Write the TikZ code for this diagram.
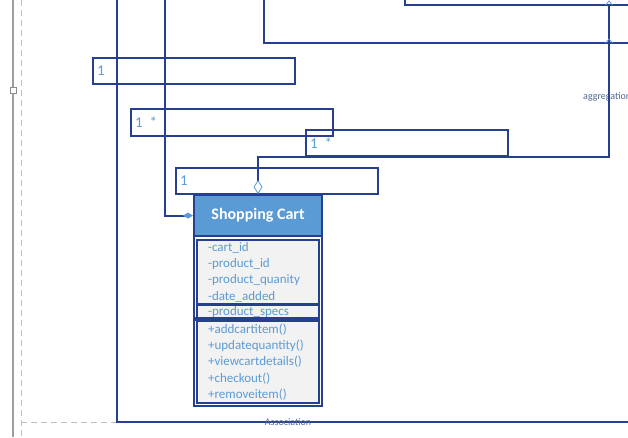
\documentclass[tikz,border=0pt]{standalone}
\usepackage{fontspec}
\setmainfont{Carlito}
\usetikzlibrary{positioning,arrows.meta}

\definecolor{umlblue}{HTML}{263F8F}
\definecolor{headblue}{HTML}{5B9BD5}
\definecolor{textblue}{HTML}{5B9BD5}
\definecolor{boxgray}{HTML}{F2F2F2}
\definecolor{notegray}{HTML}{4F6A8C}

\begin{document}
\begin{tikzpicture}[
    x=1pt, y=-1pt,
    edge/.style     = {draw=umlblue, line width=2.1pt},
    multbox/.style  = {draw=umlblue, line width=2.1pt, anchor=north west,
                       minimum width=202pt, minimum height=26pt,
                       text width=194pt, inner xsep=4pt, inner ysep=0pt,
                       align=left, text=textblue, font=\fontsize{15}{17}\selectfont},
    classhead/.style= {draw=umlblue, line width=2.1pt, fill=headblue, anchor=north west,
                       minimum width=128pt, minimum height=41pt, inner sep=0pt,
                       text=white, font=\fontsize{16}{18}\selectfont\bfseries},
    frame/.style    = {draw=umlblue, line width=2.1pt, fill=white, anchor=north west,
                       minimum width=128pt, minimum height=211pt, inner sep=0pt},
    compart/.style  = {draw=umlblue, line width=2.1pt, fill=boxgray, anchor=north west,
                       minimum width=122pt, text width=100pt, inner xsep=11pt, inner ysep=0pt,
                       align=left, text=textblue, font=\fontsize{13}{16.3}\selectfont},
    sepbar/.style   = {fill=umlblue, anchor=north west, minimum width=124.1pt,
                       minimum height=4pt, inner sep=0pt},
    guide/.style    = {draw=black!25, line width=0.9pt, dash pattern=on 6pt off 4pt},
    rail/.style     = {draw=black!38, line width=1.2pt},
    handle/.style   = {draw=black!45, fill=white, line width=0.8pt, minimum size=6pt, inner sep=0pt},
    note/.style     = {text=notegray, font=\fontsize{10}{12}\selectfont, inner sep=0pt}
  ]
    \useasboundingbox (0,0) rectangle (628,437);

    %% ---- ruler on the left ----
    \coordinate (railtop) at (13,0);
    \coordinate (railbot) at (13,437);
    \node[handle] (hdl) at (13,90) {};
    \draw[rail] (railtop) -- (hdl) -- (railbot);

    \coordinate (guidetop) at (21,0);
    \coordinate (guidebot) at (21,437);
    \coordinate (ascturn) at (117,422);
    \draw[guide] (guidetop) -- (guidebot);
    \draw[guide] (21,422) -- (ascturn);

    %% ---- lines coming in from above ----
    \coordinate (asctop) at (117,0);
    \coordinate (ascend) at (628,422);
    \draw[edge] (asctop) -- (ascturn) -- (ascend);
    \node[note] (asclbl) at (288,422) {Association};

    \coordinate (topline) at (264,0);
    \coordinate (topend) at (628,43);
    \draw[edge] (topline) |- (topend);

    \coordinate (aggtop) at (405,0);
    \coordinate (aggend) at (628,5);
    \coordinate (aggcorner) at (609,5);
    \draw[edge] (aggtop) |- (aggend);
    \node[note, anchor=west] (agglbl) at (583,97) {aggregation};

    %% ---- multiplicity boxes ----
    \node[multbox] (m1) at (92,57)   {1};
    \node[multbox, minimum height=27pt] (m2) at (130,108) {1\hspace{7pt}*};
    \node[multbox] (m3) at (305,129) {1\hspace{7pt}*};
    \node[multbox] (m4) at (175,167) {1};

    %% ---- Shopping Cart class ----
    \node[frame] (cartframe) at (193,194) {};
    \node[classhead] (cart) at (193,194) {Shopping Cart};
    \node[compart, minimum height=64pt] (attrs) at (196,239)
      {-cart\_id\\-product\_id\\-product\_quanity\\-date\_added};
    \node[compart, minimum height=13.5pt] (specs) at (196,304) {-product\_specs};
    \node[compart, minimum height=82pt] (ops) at (196,320)
      {+addcartitem()\\+updatequantity()\\+viewcartdetails()\\+checkout()\\+removeitem()};
    \node[sepbar] (bar) at (194.95,316.8) {};

    %% ---- connectors to the class ----
    \coordinate (comptop) at (165,0);
    \draw[edge, -{Diamond[color=textblue, fill=textblue, length=10pt, width=6pt]}]
      (comptop) |- (cart.west);

    \draw[edge, -{Diamond[color=textblue, fill=white, length=14pt, width=9pt, line width=0.8pt]}]
      (aggcorner) -- ++(0,152) -| (cart.north);

    \draw[draw=textblue, line width=0.8pt]
      ([xshift=-3.5pt]aggcorner) -- ([yshift=4pt]aggcorner) -- ([xshift=3.5pt]aggcorner);
    \coordinate (aggmid) at (609,43);
    \draw[draw=textblue, line width=0.8pt]
      ([xshift=-3.5pt]aggmid) -- ([yshift=4pt]aggmid) -- ([xshift=3.5pt]aggmid);
  \end{tikzpicture}
\end{document}
